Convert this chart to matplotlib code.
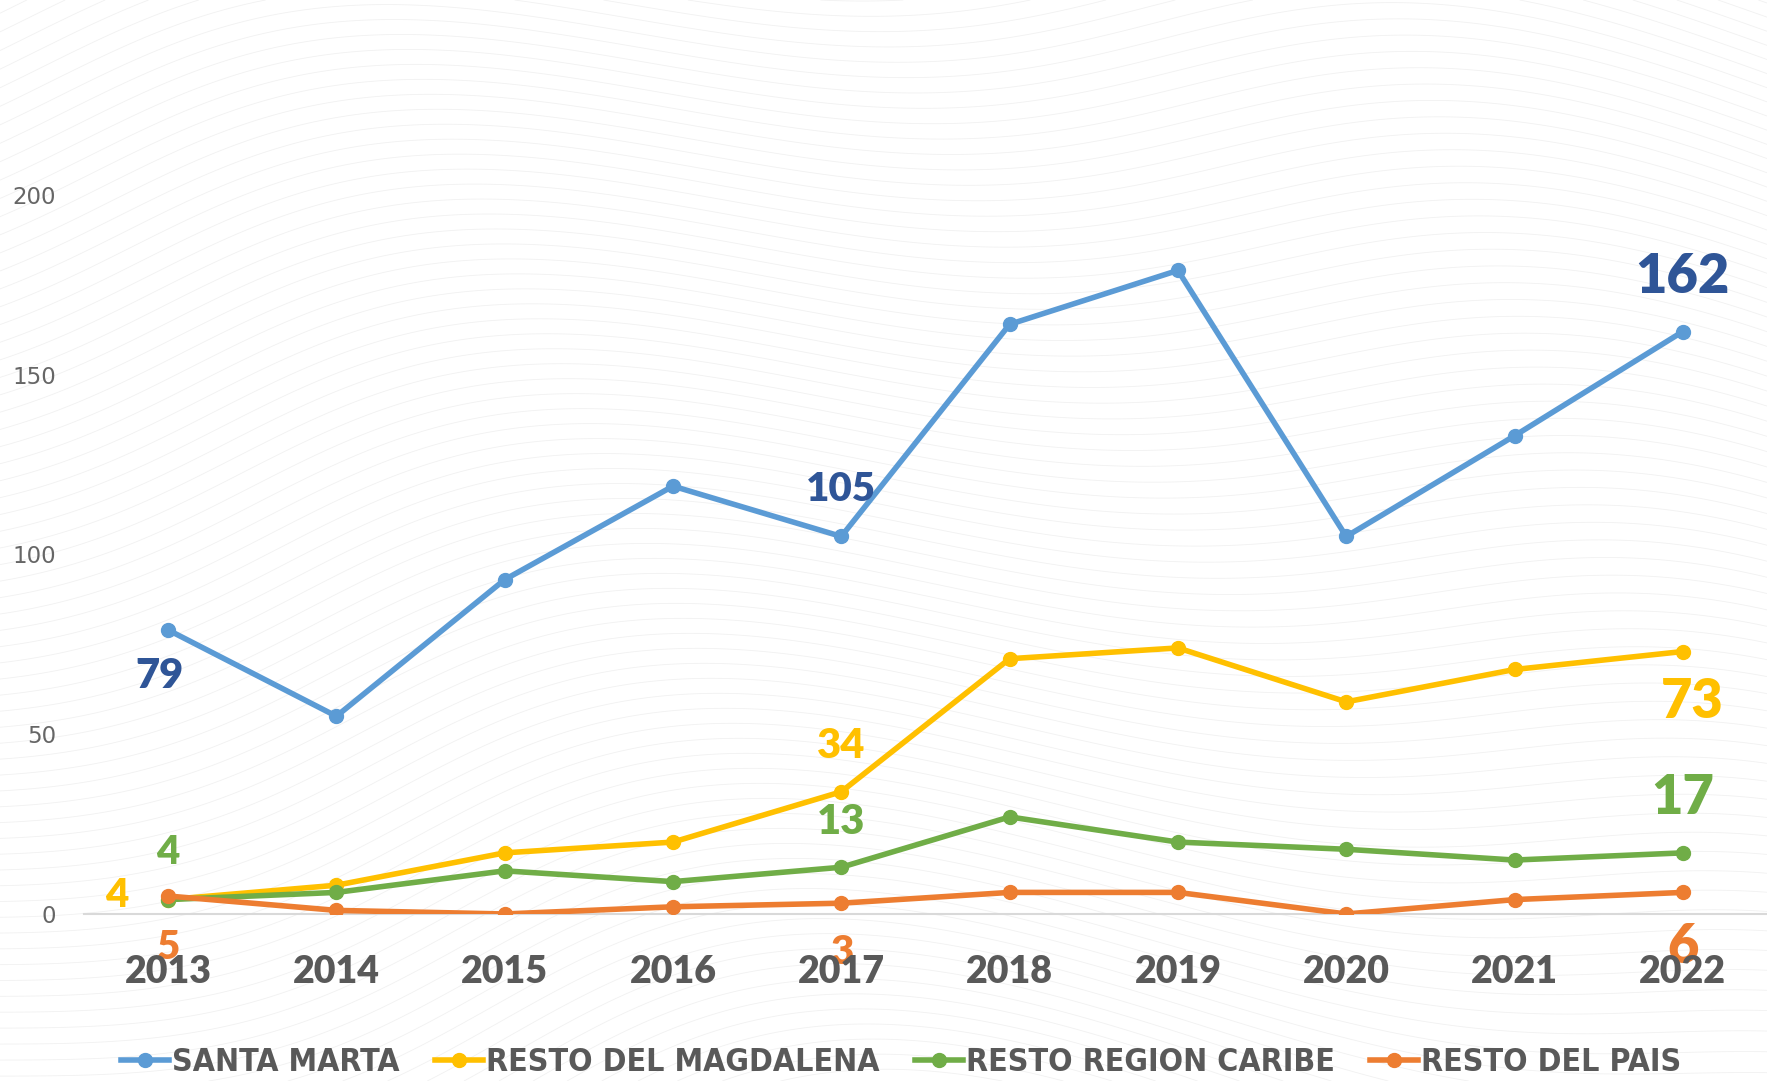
import numpy as np
import matplotlib.pyplot as plt
from matplotlib.lines import Line2D

years = ['2013', '2014', '2015', '2016', '2017', '2018', '2019', '2020', '2021', '2022']
santa_marta = [79, 55, 93, 119, 105, 164, 179, 105, 133, 162]
resto_magdalena = [4, 8, 17, 20, 34, 71, 74, 59, 68, 73]
resto_caribe = [4, 6, 12, 9, 13, 27, 20, 18, 15, 17]
resto_pais = [5, 1, 0, 2, 3, 6, 6, 0, 4, 6]

names = ['SANTA MARTA', 'RESTO DEL MAGDALENA', 'RESTO REGION CARIBE', 'RESTO DEL PAIS']
line_colors = ['#5B9BD5', '#FFC000', '#70AD47', '#ED7D31']
label_colors = ['#2F5597', '#FFC000', '#70AD47', '#ED7D31']
series = [santa_marta, resto_magdalena, resto_caribe, resto_pais]

# which points get a value label: (series, year index, dx px, dy px, size)
labels = [
    (0, 0, -9, -46, 30), (0, 4, 0, 47, 29), (0, 9, 0, 55, 39),
    (1, 0, -51, 4, 29), (1, 4, 0, 46, 30), (1, 9, 9, -50, 39),
    (2, 0, 0, 47, 29), (2, 4, 0, 45, 30), (2, 9, 0, 55, 39),
    (3, 0, 0, -51, 29), (3, 4, 0, -49, 29), (3, 9, 0, -55, 39),
]

fig = plt.figure(figsize=(17.67, 10.81), dpi=100)

# faint wavy backdrop
bg = fig.add_axes([0, 0, 1, 1], zorder=-5)
gx, gy = np.meshgrid(np.linspace(0, 1.63, 400), np.linspace(0, 1, 300))
field = gy + 0.06 * np.sin(6 * gx + 3 * gy) + 0.4 * np.hypot(gx - 0.9, gy + 0.4)
bg.contour(gx, gy, field, levels=80, colors='#F1F1F1', linewidths=0.6)
bg.set_xlim(0, 1.63)
bg.set_ylim(0, 1)
bg.axis('off')

ax = fig.add_axes([0.0475, 0.1545, 0.9525, 0.8315])
ax.patch.set_alpha(0)
x = np.arange(len(years))
for vals, c in zip(series, line_colors):
    ax.plot(x, vals, color=c, lw=4, marker='o', ms=10, solid_capstyle='round', zorder=3)

for s, i, dx, dy, size in labels:
    ax.annotate(str(series[s][i]), (x[i], series[s][i]), xytext=(dx * 0.72, dy * 0.72),
                textcoords='offset points', ha='center', va='center',
                fontsize=size, fontweight='heavy', family='Lato',
                color=label_colors[s], zorder=4)

ax.set_xlim(-0.5, 9.5)
ax.set_ylim(0, 250)
ax.set_yticks([0, 50, 100, 150, 200])
ax.tick_params(axis='y', length=0, pad=20, labelsize=16.5, labelcolor='#666666')
ax.set_xticks(x)
ax.set_xticklabels([])
ax.tick_params(axis='x', length=0)
for sp in ['top', 'right', 'left']:
    ax.spines[sp].set_visible(False)
ax.spines['bottom'].set_color('#D9D9D9')
ax.spines['bottom'].set_linewidth(1.5)

for i, yr in enumerate(years):
    ax.annotate(yr, (x[i], 0), xytext=(0, -58 * 0.72), textcoords='offset points',
                ha='center', va='center', fontsize=27, fontweight='heavy',
                family='Lato', color='#595959', zorder=6, annotation_clip=False)

handles = [Line2D([], [], color=c, lw=4, marker='o', ms=10) for c in line_colors]
fig.legend(handles, names, loc='center', bbox_to_anchor=(0.51, 0.017), ncol=4,
           frameon=False, handlelength=1.5, handletextpad=0.1, columnspacing=1.1,
           prop={'family': 'DejaVu Sans', 'stretch': 'condensed', 'weight': 'bold', 'size': 23},
           labelcolor='#595959')

fig.savefig('out.png', dpi=100)
